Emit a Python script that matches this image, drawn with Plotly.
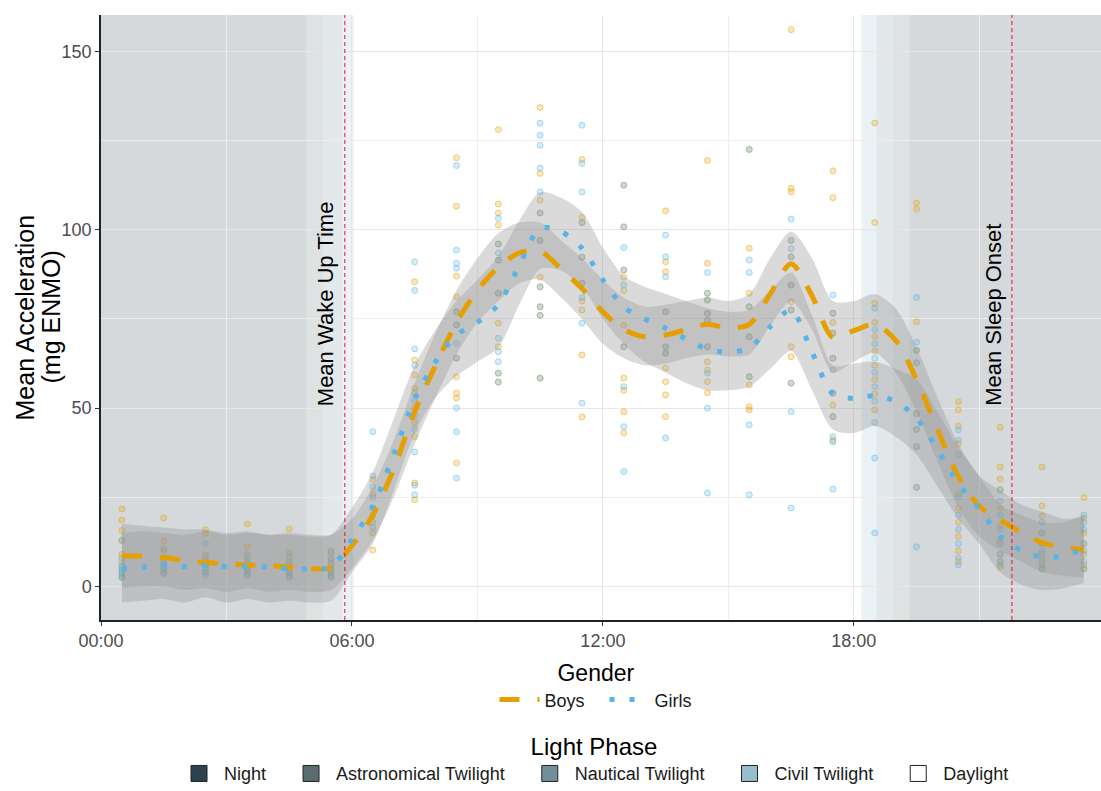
import plotly.graph_objects as go

# ---------------------------------------------------------------------------
# Data
# ---------------------------------------------------------------------------
# Smoothed profile grid (hours of the day)
hours = [0.5, 1.0, 1.5, 2.0, 2.5, 3.0, 3.5, 4.0, 4.5, 5.0, 5.5, 6.0, 6.5, 7.0,
         7.5, 8.0, 8.5, 9.0, 9.5, 10.0, 10.5, 11.0, 11.5, 12.0, 12.5, 13.0,
         13.5, 14.0, 14.5, 15.0, 15.5, 16.0, 16.5, 17.0, 17.5, 18.0, 18.5,
         19.0, 19.5, 20.0, 20.5, 21.0, 21.5, 22.0, 22.5, 23.0, 23.5]

boys_mean = [8.6, 8.5, 8.1, 7.3, 6.7, 6.4, 6.0, 5.9, 5.4, 5.0, 5.3, 11.5, 20,
             33, 49, 62, 74, 83, 89.5, 93.5, 94, 89, 83.5, 77, 72, 70, 70.5,
             72, 73.5, 72.5, 73.5, 82, 90.5, 81.5, 69.8, 71.7, 73.5, 69, 58,
             44, 30.8, 22.5, 18.7, 15.2, 12.3, 10.9, 10.4]
boys_lower = [-0.5, 0, 0, -1, -0.5, -1.5, -0.5, -1.5, -1, -1.5, -1, 5, 13, 25,
              40, 53, 65, 74, 80, 85, 86, 81, 75, 68, 64, 62, 62.5, 64, 65,
              64.5, 65, 73, 80, 72, 60, 63, 65.5, 60, 49, 35, 22, 14, 10, 7,
              4, 3, 2.5]
boys_upper = [17.5, 17, 16.5, 16, 16, 15, 15.5, 14.5, 15, 14.5, 14.5, 19, 28,
              41, 57, 71, 83, 92, 99, 102, 102, 97, 92, 86, 81, 78.5, 79, 80,
              81, 80, 82, 92, 99.5, 92, 80, 80, 82, 78, 67, 53, 40, 31, 27, 23,
              21, 19, 19.5]

girls_mean = [5.0, 5.4, 5.9, 5.6, 5.9, 5.6, 5.7, 5.4, 5.0, 4.9, 5.4, 13.2,
              22.5, 37, 52.5, 63, 70.5, 74, 79, 90, 100.5, 99.5, 94.8, 86,
              78.3, 75, 72.4, 69.3, 66.5, 65.7, 66.8, 72.8, 77.5, 65.7, 54,
              52.7, 53.5, 51.9, 47.2, 38.4, 28.8, 21.7, 14, 10.1, 8.3, 8.5,
              10.6]
girls_lower = [-4.5, -4, -3.5, -4.5, -3, -4.5, -3.5, -4.5, -4, -4.5, -4, 4,
               12, 27, 43, 53, 59, 63, 67, 79, 89, 88.5, 84, 75, 68, 63, 60,
               57, 55, 55, 56, 61, 66, 55, 44, 43, 45, 42, 37, 28, 19, 12, 4,
               0.5, -1, -0.5, 1]
girls_upper = [15, 15.5, 15, 14.5, 15.5, 14.5, 15, 14.5, 14.5, 14, 14.5, 22,
               32, 47, 62, 72, 80, 86, 92.5, 102.5, 110.5, 109, 105, 95, 87,
               84, 82, 80, 78, 77, 77.5, 83, 88, 76, 62, 62.5, 63, 61, 58, 49,
               39, 31, 23, 20, 18, 18, 20]

# Individual hourly observations (one list per hour, 00:30 ... 23:30)
obs_hours = [0.5, 1.5, 2.5, 3.5, 4.5, 5.5, 6.5, 7.5, 8.5, 9.5, 10.5, 11.5,
             12.5, 13.5, 14.5, 15.5, 16.5, 17.5, 18.5, 19.5, 20.5, 21.5,
             22.5, 23.5]
boys_obs = [
    [21.7, 18.6, 15.7, 12.8, 9, 7, 5, 3.5, 2.5],
    [19.2, 12.8, 10.5, 8, 6, 5, 4],
    [15.9, 14.9, 8.8, 7, 5.5, 4],
    [17.5, 11.1, 8.3, 6.5, 5, 4],
    [16.1, 9.4, 7, 5.5, 4, 3],
    [9.5, 7.5, 6, 5, 4, 3],
    [30, 26, 22, 18, 15, 10.2],
    [85.4, 63.5, 59.3, 55.6, 54.2, 50, 46, 42, 29, 24.3],
    [120.2, 106.6, 87, 81.2, 77, 73.3, 64, 58.8, 54.2, 52.8, 34.6],
    [128.1, 107.2, 104.7, 101.3, 96, 91.5, 82.2, 73.8, 67.2, 59.8, 57.3],
    [134.3, 115.8, 108.3, 104.7, 97, 86.7, 84, 78.4, 76, 58.4],
    [119.7, 103.5, 102, 92.3, 85, 80, 77.5, 64.9, 47.5],
    [112.5, 100.8, 88.7, 86.7, 83, 73.2, 67.2, 58.4, 55, 49, 43],
    [105.3, 91, 88.2, 77, 67.2, 65.4, 61.2, 57.4, 53.7, 47.6],
    [119.4, 90.6, 82.2, 80.3, 76.6, 74.7, 67.2, 63, 60.7, 57.4, 54.3],
    [122.5, 94.8, 82.2, 78.4, 70, 58.8, 56.5, 50.4, 49.5],
    [156.1, 111.6, 110.6, 97, 92.4, 84.5, 79.8, 77.5, 67.2, 64.4, 57],
    [116.5, 109, 76.6, 74, 71, 64, 54.2, 50.9, 47.6, 41],
    [129.9, 102, 79.4, 74, 70, 66, 62, 58, 54, 49.5],
    [107.5, 105.8, 74.2, 66.2, 62.7, 48.4, 44, 39.2, 27.8],
    [51.8, 49.5, 45, 40, 26, 22, 18, 14, 10, 7],
    [44.6, 33.5, 30.1, 27.2, 22, 17, 13, 9, 7, 5.4],
    [33.5, 22.6, 19.8, 15, 12, 9, 7, 5],
    [24.9, 19.2, 15, 12, 9, 6, 4.9],
]
girls_obs = [
    [13, 8, 6, 5.5, 4.5, 3.8, 3, 2.5],
    [10, 7, 6, 5, 4, 3.5],
    [12, 8, 6, 5, 4, 3.2],
    [9, 7, 5.5, 4.5, 3.5, 3],
    [8.5, 6.5, 5, 4, 3, 2.5],
    [10, 8, 6.5, 5, 4, 3, 2.5],
    [43.4, 31, 28, 25, 20, 16.6],
    [91, 83, 66.6, 62, 52, 48, 44, 37.7, 28.4, 25.7],
    [118, 94.3, 90.6, 89.2, 77, 73.3, 68.2, 64, 50, 43.4, 30.4],
    [103.2, 96, 93.5, 91.5, 82.2, 69.6, 65.8, 63, 59.8, 57.3],
    [129.9, 126.5, 123.7, 117.3, 110.6, 104.7, 97, 84, 78.4, 76, 58.4],
    [129.3, 118.6, 110.6, 102, 92.3, 85, 81, 73.8, 51.4],
    [112.5, 100.8, 95, 88.7, 84.5, 67.2, 56, 44.8, 32.2],
    [98.5, 92.4, 86.8, 77, 67.2, 65.4, 41.6],
    [88, 82.2, 80.3, 76.6, 74.7, 67.2, 59.8, 50, 26.2],
    [122.5, 91.5, 88, 78.4, 70, 58.8, 45.3, 25.7],
    [103, 97, 94.7, 92.4, 84.5, 77.5, 57, 49, 22],
    [81.7, 76.6, 71, 64, 60.7, 54.2, 47.6, 42, 40.5, 27.3],
    [78, 72, 68, 64, 60, 56, 52, 46, 36, 15],
    [81, 68.5, 66.2, 62.7, 48.4, 44, 39.2, 27.8, 11.1],
    [43.9, 41, 37, 25, 20, 16, 12, 8, 6],
    [27, 24, 20, 16, 12, 9, 7, 6],
    [18, 15, 12, 10, 8, 6, 4.9],
    [20, 18, 16, 12, 10, 7, 5],
]

# Light phases over the day: (phase, start hour, end hour)
phase_names = ["Night", "Astronomical Twilight", "Nautical Twilight",
               "Civil Twilight", "Daylight"]
phase_colors = ["#2E4350", "#5A6C70", "#718E9A", "#97BECE", "#FFFFFF"]
phase_spans = [("Night", 0.0, 4.91), ("Astronomical Twilight", 4.91, 5.31),
               ("Nautical Twilight", 5.31, 5.78), ("Civil Twilight", 5.78, 6.04),
               ("Civil Twilight", 18.18, 18.54), ("Nautical Twilight", 18.54, 18.93),
               ("Astronomical Twilight", 18.93, 19.33), ("Night", 19.33, 24.0)]

wake_time = 5.83
sleep_onset = 21.78

tick_hours = [0, 6, 12, 18]
tick_labels = ["00:00", "06:00", "12:00", "18:00"]

y_title_lines = ["Mean Acceleration", "(mg ENMO)"]

BOYS = "#E69F00"
GIRLS = "#56B4E9"
FONT = "Liberation Sans, Arial, sans-serif"
PAD = "\u00a0\u00a0\u00a0"  # extra spacing after each legend label


def rgba(hex_color, alpha):
    h = hex_color.lstrip("#")
    r, g, b = int(h[0:2], 16), int(h[2:4], 16), int(h[4:6], 16)
    return f"rgba({r},{g},{b},{alpha})"


fig = go.Figure()

# Scatter of hourly observations
for name, obs, col in [("Boys", boys_obs, BOYS), ("Girls", girls_obs, GIRLS)]:
    xs, ys = [], []
    for h, vals in zip(obs_hours, obs):
        xs += [h] * len(vals)
        ys += vals
    fig.add_trace(go.Scatter(
        x=xs, y=ys, mode="markers", showlegend=False, hoverinfo="skip",
        marker=dict(size=6, color=rgba(col, 0.25),
                    line=dict(color=rgba(col, 0.45), width=1)),
    ))

# Confidence ribbons
for lo, hi in [(boys_lower, boys_upper), (girls_lower, girls_upper)]:
    fig.add_trace(go.Scatter(
        x=hours, y=lo, mode="lines", line=dict(width=0, shape="spline", smoothing=0.8),
        showlegend=False, hoverinfo="skip"))
    fig.add_trace(go.Scatter(
        x=hours, y=hi, mode="lines", line=dict(width=0, shape="spline", smoothing=0.8),
        fill="tonexty", fillcolor="rgba(150,150,150,0.35)",
        showlegend=False, hoverinfo="skip"))

# Mean profiles
fig.add_trace(go.Scatter(
    x=hours, y=boys_mean, mode="lines", name="Boys" + PAD, legend="legend",
    line=dict(color=BOYS, width=5, dash="20px,18px", shape="spline", smoothing=0.8)))
fig.add_trace(go.Scatter(
    x=hours, y=girls_mean, mode="lines", name="Girls", legend="legend",
    line=dict(color=GIRLS, width=5, dash="5px,15px", shape="spline", smoothing=0.8)))

# Light phase legend keys
for i, (name, col) in enumerate(zip(phase_names, phase_colors)):
    label = name + (PAD if i < len(phase_names) - 1 else "")
    fig.add_trace(go.Scatter(
        x=[None], y=[None], mode="markers", name=label, legend="legend2",
        marker=dict(symbol="square", size=22, color=col,
                    line=dict(color="#222222", width=1))))

# Light phase shading
shapes = []
for name, x0, x1 in phase_spans:
    col = phase_colors[phase_names.index(name)]
    shapes.append(dict(type="rect", xref="x", yref="paper", x0=x0, x1=x1,
                       y0=0, y1=1, fillcolor=rgba(col, 0.2), line=dict(width=0),
                       layer="between"))
for t in [wake_time, sleep_onset]:
    shapes.append(dict(type="line", xref="x", yref="paper", x0=t, x1=t, y0=0, y1=1,
                       line=dict(color="#E8102A", width=1, dash="4px,3px"),
                       layer="above"))

annotations = [
    dict(x=wake_time - 0.46, y=50, xref="x", yref="y", text="Mean Wake Up Time",
         textangle=-90, showarrow=False, yanchor="bottom", xanchor="center",
         font=dict(size=22, color="#000000", family=FONT)),
    dict(x=sleep_onset - 0.46, y=50, xref="x", yref="y", text="Mean Sleep Onset",
         textangle=-90, showarrow=False, yanchor="bottom", xanchor="center",
         font=dict(size=22, color="#000000", family=FONT)),
]
# y-axis title, two tightly spaced lines
for line_text, xpos in zip(y_title_lines, [-0.077, -0.051]):
    annotations.append(dict(
        x=xpos, y=0.5, xref="paper", yref="paper", text=line_text,
        textangle=-90, showarrow=False, xanchor="center", yanchor="middle",
        font=dict(size=25, color="#000000", family=FONT)))

fig.update_layout(
    width=1101, height=791,
    margin=dict(l=101, r=0, t=15, b=171, autoexpand=False),
    paper_bgcolor="white", plot_bgcolor="white",
    font=dict(family=FONT, color="#000000"),
    shapes=shapes, annotations=annotations,
    xaxis=dict(range=[0, 23.91], tickvals=tick_hours, ticktext=tick_labels,
               showgrid=True, gridcolor="#E6E6E6", gridwidth=1,
               minor=dict(tickvals=[3, 9, 15, 21], showgrid=True,
                          gridcolor="#EDEDED", gridwidth=1),
               showline=True, linecolor="#222222", linewidth=1.5,
               ticks="outside", ticklen=4, tickcolor="#333333",
               tickfont=dict(size=18, color="#4D4D4D"), zeroline=False),
    yaxis=dict(range=[-9.4, 160.2], tickvals=[0, 50, 100, 150],
               showgrid=True, gridcolor="#E6E6E6", gridwidth=1,
               minor=dict(tickvals=[25, 75, 125], showgrid=True,
                          gridcolor="#EDEDED", gridwidth=1),
               showline=True, linecolor="#222222", linewidth=1.5,
               ticks="outside", ticklen=4, tickcolor="#333333",
               tickfont=dict(size=18, color="#4D4D4D"), zeroline=False),
    legend=dict(orientation="h", x=0.495, xanchor="center", y=-0.052, yanchor="top",
                title=dict(text="Gender", side="top center",
                           font=dict(size=23, color="#000000")),
                font=dict(size=18, color="#1A1A1A"), bgcolor="rgba(0,0,0,0)",
                itemwidth=40, traceorder="normal"),
    legend2=dict(orientation="h", x=0.493, xanchor="center", y=-0.172, yanchor="top",
                 title=dict(text="Light Phase", side="top center",
                            font=dict(size=24, color="#000000")),
                 font=dict(size=18, color="#1A1A1A"), bgcolor="rgba(0,0,0,0)",
                 itemwidth=40, traceorder="normal"),
)

fig.write_html("out.html")
